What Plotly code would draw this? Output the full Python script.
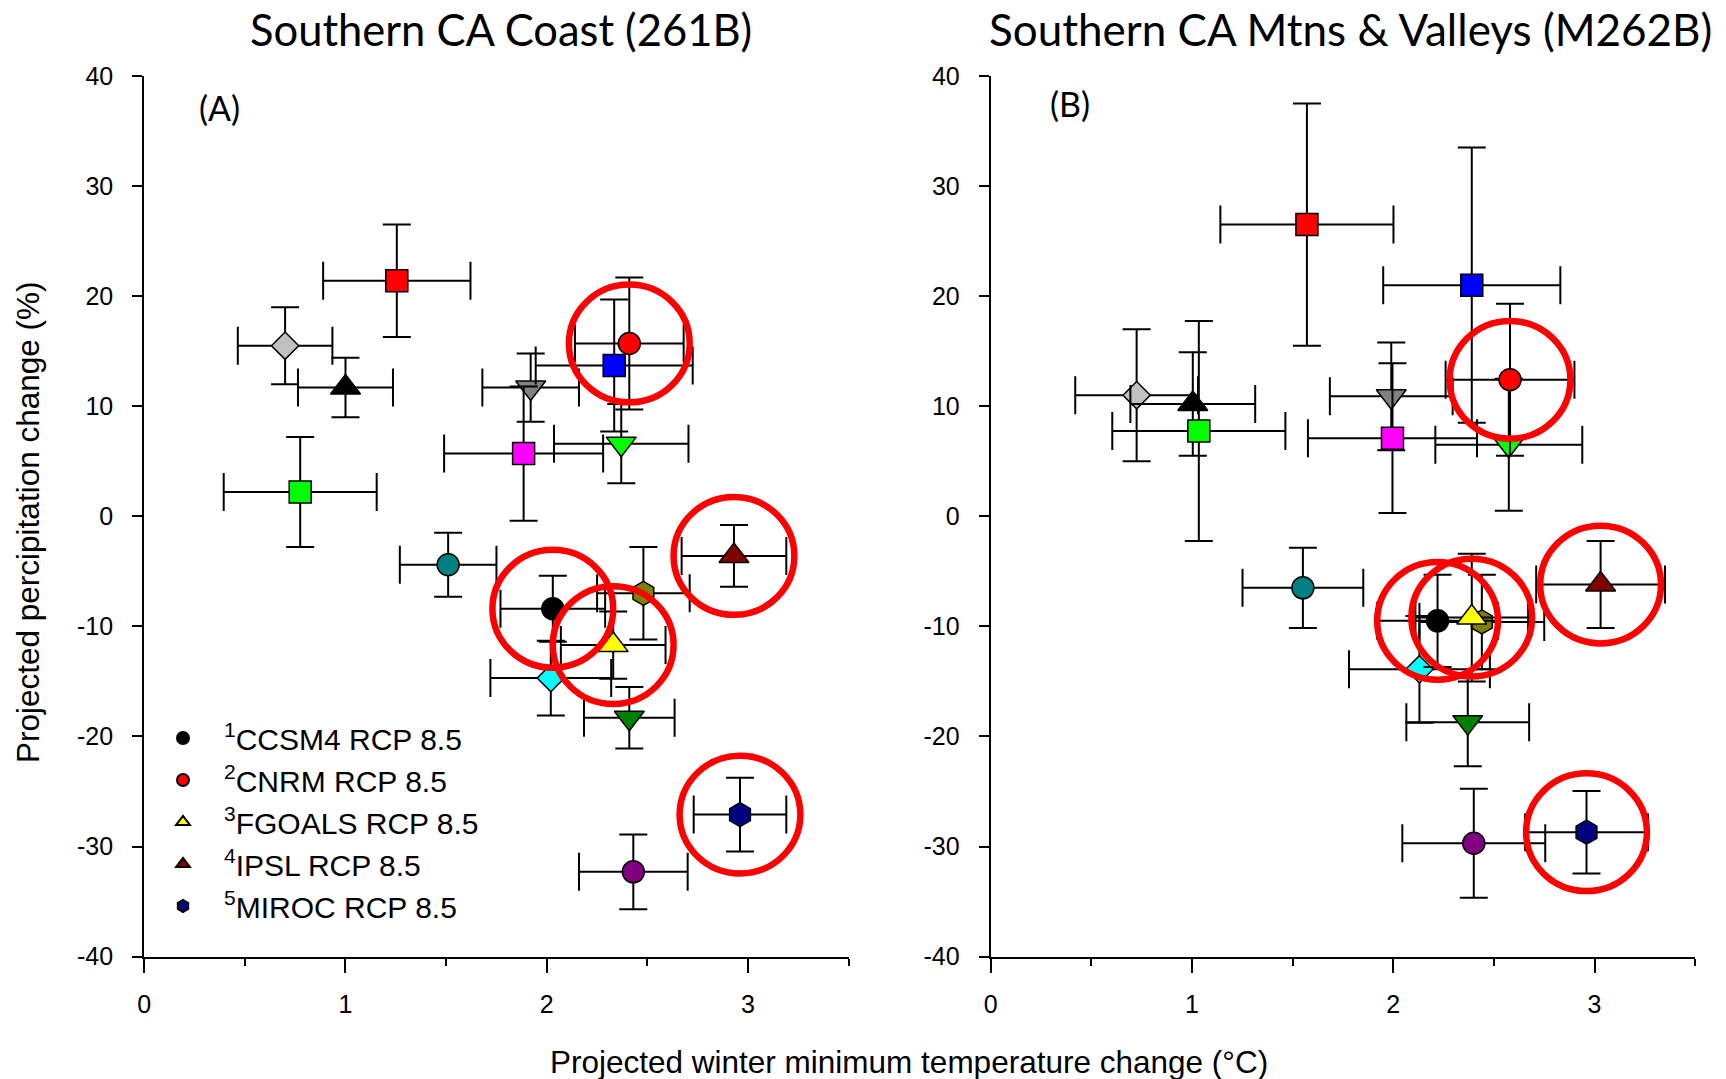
import plotly.graph_objects as go

# ---------------- data ----------------
model_names = ["CCSM4 RCP 8.5", "CNRM RCP 8.5", "FGOALS RCP 8.5", "IPSL RCP 8.5", "MIROC RCP 8.5",
               "model 6", "model 7", "model 8", "model 9", "model 10", "model 11", "model 12",
               "model 13", "model 14", "model 15", "model 16", "model 17", "model 18"]
legend_labels = ["<sup>1</sup>CCSM4 RCP 8.5", "<sup>2</sup>CNRM RCP 8.5", "<sup>3</sup>FGOALS RCP 8.5",
                 "<sup>4</sup>IPSL RCP 8.5", "<sup>5</sup>MIROC RCP 8.5"]
highlighted = [0, 1, 2, 3, 4]

# Southern CA Coast (261B)
coast_dT     = [2.03, 2.41, 2.33, 2.93, 2.96, 0.70, 1.00, 1.255, 0.775, 1.92, 1.885, 2.335, 2.37, 1.51, 2.48, 2.02, 2.41, 2.43]
coast_dT_err = [0.26, 0.27, 0.26, 0.26, 0.23, 0.235, 0.236, 0.366, 0.38, 0.24, 0.395, 0.39, 0.334, 0.24, 0.23, 0.30, 0.225, 0.27]
coast_dP     = [-8.4, 15.7, -11.7, -3.6, -27.1, 15.5, 11.7, 21.4, 2.2, 11.7, 5.7, 13.7, 6.6, -4.4, -7.0, -14.7, -18.3, -32.3]
coast_dP_err = [3.0, 6.0, 3.05, 2.8, 3.35, 3.5, 2.7, 5.1, 5.0, 3.1, 6.1, 6.0, 3.6, 2.9, 4.2, 3.4, 2.8, 3.4]

# Southern CA Mtns & Valleys (M262B)
mtn_dT     = [2.22, 2.58, 2.39, 3.03, 2.96, 0.725, 1.004, 1.571, 1.034, 1.99, 1.996, 2.39, 2.574, 1.551, 2.44, 2.13, 2.37, 2.40]
mtn_dT_err = [0.30, 0.32, 0.28, 0.32, 0.305, 0.305, 0.31, 0.43, 0.43, 0.305, 0.42, 0.44, 0.365, 0.30, 0.31, 0.35, 0.305, 0.355]
mtn_dP     = [-9.5, 12.4, -9.2, -6.2, -28.7, 11.0, 10.2, 26.5, 7.75, 10.9, 7.1, 21.0, 6.5, -6.5, -9.6, -13.9, -18.7, -29.7]
mtn_dP_err = [4.2, 6.9, 5.8, 3.95, 3.75, 6.0, 4.7, 11.0, 10.0, 4.9, 6.8, 12.5, 6.0, 3.65, 4.3, 4.85, 4.0, 4.95]

x_ticks = [0, 1, 2, 3]
x_tick_labels = ["0", "1", "2", "3"]
y_ticks = [40, 30, 20, 10, 0, -10, -20, -30, -40]
y_tick_labels = ["40", "30", "20", "10", "0", "-10", "-20", "-30", "-40"]

# ---------------- styles ----------------
symbols = ["circle", "circle", "triangle-up", "triangle-up", "hexagon",
           "diamond", "triangle-up", "square", "square", "triangle-down", "square", "square",
           "triangle-down", "circle", "hexagon", "diamond", "triangle-down", "circle"]
colors = ["#000000", "#FF0000", "#FFFF00", "#800000", "#000080",
          "#C0C0C0", "#000000", "#FF0000", "#00FF00", "#808080", "#FF00FF", "#0000FF",
          "#00FF00", "#008080", "#808000", "#00FFFF", "#008000", "#800080"]
size_by_symbol = {"circle": 22, "square": 22, "diamond": 21, "triangle-up": 26,
                  "triangle-down": 26, "hexagon": 24}

TXT = "Liberation Sans"
TITLE_FONT = "Lato"

fig = go.Figure()

panels = [
    (coast_dT, coast_dT_err, coast_dP, coast_dP_err, "x", "y"),
    (mtn_dT, mtn_dT_err, mtn_dP, mtn_dP_err, "x2", "y2"),
]

order = list(range(5, 18)) + list(range(0, 5))  # draw highlighted ones last
for p, (dT, dTe, dP, dPe, xa, ya) in enumerate(panels):
    for i in order:
        show = (p == 0 and i in highlighted)
        fig.add_trace(go.Scatter(
            x=[dT[i]], y=[dP[i]], mode="markers", xaxis=xa, yaxis=ya,
            name=legend_labels[i] if i < 5 else model_names[i],
            showlegend=show, legendrank=i + 1,
            marker=dict(symbol=symbols[i], color=colors[i], size=size_by_symbol[symbols[i]],
                        line=dict(color="black", width=1.5)),
            error_x=dict(type="data", array=[dTe[i]], color="black", thickness=2, width=19),
            error_y=dict(type="data", array=[dPe[i]], color="black", thickness=2, width=14),
        ))

# red highlight circles around the five RCP 8.5 models
RX, RY = 0.30, 5.35
shapes = []
for (dT, dTe, dP, dPe, xa, ya) in panels:
    for i in highlighted:
        shapes.append(dict(type="circle", xref=xa, yref=ya,
                           x0=dT[i] - RX, x1=dT[i] + RX, y0=dP[i] - RY, y1=dP[i] + RY,
                           line=dict(color="#FF0000", width=6.5), layer="above"))

W, H = 1726, 1079
xd1 = [144.2 / W, 848.7 / W]
xd2 = [990.7 / W, 1695.2 / W]
yd = [(H - 956.6) / H, (H - 76) / H]

def xaxis(domain, anchor):
    return dict(domain=domain, anchor=anchor, range=[0, 3.5], tickvals=x_ticks, ticktext=x_tick_labels,
                automargin=False,
                ticks="outside", ticklen=14, tickwidth=2, tickcolor="black",
                showline=True, linecolor="black", linewidth=2, showgrid=False, zeroline=False,
                minor=dict(tickvals=[0.5, 1.5, 2.5, 3.5], ticks="outside", ticklen=7,
                           tickwidth=2, tickcolor="black"),
                tickfont=dict(family=TXT, size=25, color="black"), ticklabelstandoff=10)

def yaxis(anchor):
    return dict(domain=yd, anchor=anchor, range=[-40, 40], tickvals=y_ticks, ticktext=y_tick_labels,
                automargin=False,
                ticks="outside", ticklen=10, tickwidth=2, tickcolor="black",
                showline=True, linecolor="black", linewidth=2, showgrid=False, zeroline=False,
                tickfont=dict(family=TXT, size=25, color="black"), ticklabelstandoff=14)

annotations = [
    dict(text="Southern CA Coast (261B)", x=501 / W, y=(H - 29) / H, xref="paper", yref="paper",
         showarrow=False, font=dict(family=TITLE_FONT, size=43.5, color="black"),
         xanchor="center", yanchor="middle"),
    dict(text="Southern CA Mtns &amp; Valleys (M262B)", x=1350 / W, y=(H - 29) / H,
         xref="paper", yref="paper", showarrow=False,
         font=dict(family=TITLE_FONT, size=44, color="black"), xanchor="center", yanchor="middle"),
    dict(text="(A)", x=219 / W, y=(H - 108) / H, xref="paper", yref="paper", showarrow=False,
         font=dict(family=TITLE_FONT, size=34, color="black"), xanchor="center", yanchor="middle"),
    dict(text="(B)", x=1070 / W, y=(H - 104) / H, xref="paper", yref="paper", showarrow=False,
         font=dict(family=TITLE_FONT, size=34, color="black"), xanchor="center", yanchor="middle"),
    dict(text="Projected winter minimum temperature change (°C)", x=909 / W, y=(H - 1062) / H,
         xref="paper", yref="paper", showarrow=False,
         font=dict(family=TXT, size=31.5, color="black"), xanchor="center", yanchor="middle"),
    dict(text="Projected percipitation change (%)", x=28 / W, y=(H - 522) / H, textangle=-90,
         xref="paper", yref="paper", showarrow=False,
         font=dict(family=TXT, size=31.5, color="black"), xanchor="center", yanchor="middle"),
]

fig.update_layout(
    width=W, height=H, margin=dict(l=0, r=0, t=0, b=0, autoexpand=False),
    paper_bgcolor="white", plot_bgcolor="white",
    xaxis=xaxis(xd1, "y"), yaxis=yaxis("x"),
    xaxis2=xaxis(xd2, "y2"), yaxis2=yaxis("x2"),
    shapes=shapes, annotations=annotations,
    legend=dict(x=142 / W, y=(H - 712) / H, xanchor="left", yanchor="top",
                bgcolor="rgba(0,0,0,0)", font=dict(family=TXT, size=30, color="black"),
                itemsizing="constant", tracegroupgap=0, itemwidth=72),
    showlegend=True,
)

fig.write_html("out.html", config={"displayModeBar": False},
               post_script="document.body.style.margin='0';document.body.style.overflow='hidden';")
